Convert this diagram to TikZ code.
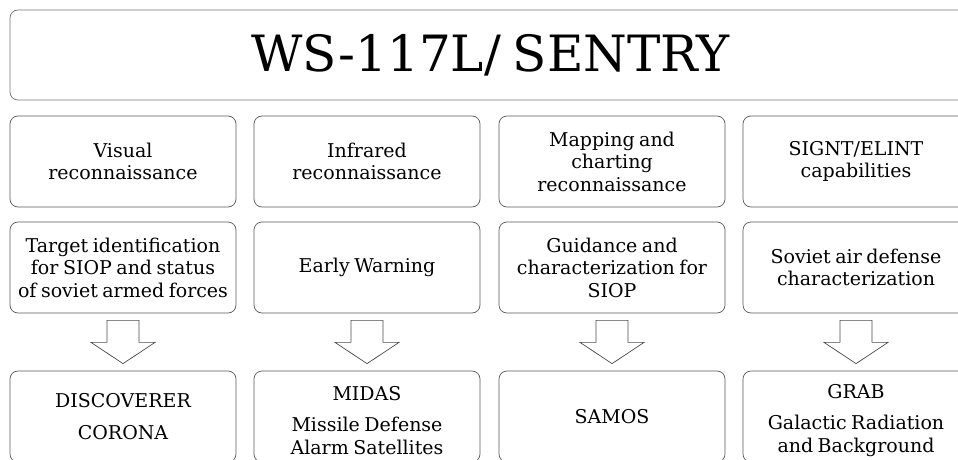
\documentclass[tikz,border=0pt]{standalone}
\usepackage{fontspec}
\setmainfont[WordSpace=0.75]{DejaVu Serif}
\usetikzlibrary{calc}

\tikzset{
	cell/.style={draw=black!65, line width=0.7pt, rounded corners=8pt, minimum width=226pt, minimum height=91pt, align=center, font=\fontsize{19}{22.5}\selectfont},
	hollow/.style={draw=black!70, line width=0.7pt, fill=white},
}

\begin{document}
\begin{tikzpicture}[x=1pt, y=-1pt]
	\useasboundingbox (0,0) rectangle (958,460);
	\clip (0,0) rectangle (958,460);
	\node[cell, draw=black!55, minimum width=961pt, minimum height=90pt, font=\fontsize{50}{56}\selectfont] (title) at (490.5,55) {WS-117L/ SENTRY};
	%% aims
	\node[cell] (aim1) at (123,161.5) {Visual\\reconnaissance};
	\node[cell] (aim2) at (367,161.5) {Infrared\\reconnaissance};
	\node[cell] (aim3) at (612,161.5) {Mapping and\\charting\\reconnaissance};
	\node[cell] (aim4) at (856,161.5) {SIGNT/ELINT\\capabilities};
	%% uses
	\node[cell] (use1) at (123,267.5) {Target identification\\for SIOP and status\\of soviet armed forces};
	\node[cell] (use2) at (367,267.5) {Early Warning};
	\node[cell] (use3) at (612,267.5) {Guidance and\\characterization for\\SIOP};
	\node[cell] (use4) at (856,267.5) {Soviet air defense\\characterization};
	%% programs
	\node[cell] (sat1) at (123,416.5) {DISCOVERER\\[9pt]CORONA};
	\node[cell] (sat2) at (367,416.5) {\rule{0pt}{22pt}MIDAS\\[9pt]Missile Defense\\Alarm Satellites};
	\node[cell] (sat3) at (612,416.5) {SAMOS};
	\node[cell] (sat4) at (856,416.5) {\rule{0pt}{22pt}GRAB\\[9pt]Galactic Radiation\\and Background};
	\foreach \i in {1,...,4}
		\draw[hollow] ($(use\i.south)+(-16,7)$) -- ($(use\i.south)+(16,7)$) -- ($(use\i.south)+(16,29)$)
			-- ($(use\i.south)+(32,29)$) -- ($(sat\i.north)+(0,-7)$) -- ($(use\i.south)+(-32,29)$)
			-- ($(use\i.south)+(-16,29)$) -- cycle;
\end{tikzpicture}
\end{document}
